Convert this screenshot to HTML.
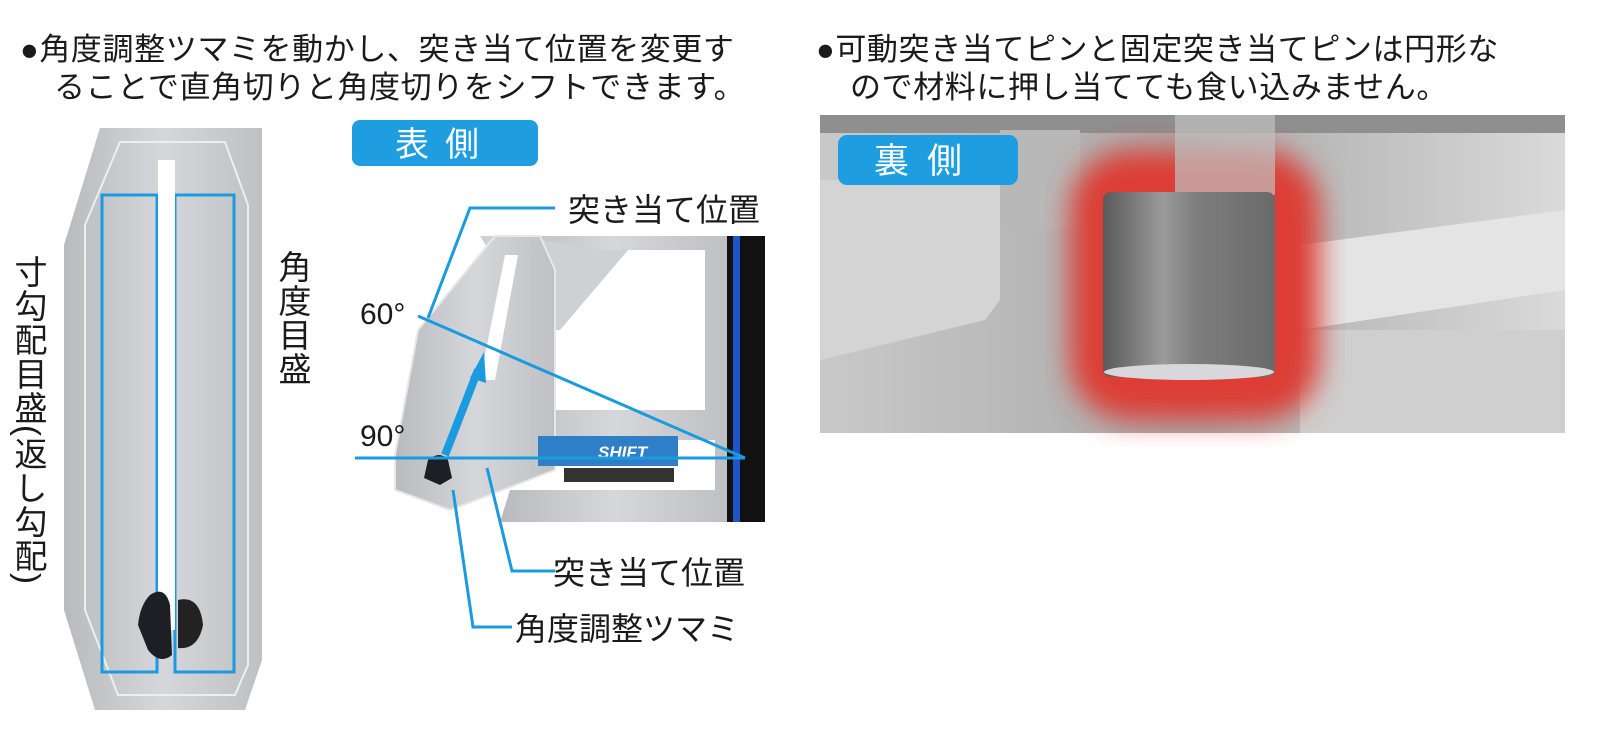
<!DOCTYPE html>
<html><head><meta charset="utf-8"><style>
body{margin:0;width:1600px;height:748px;background:#fff;overflow:hidden;font-family:"Liberation Sans","Noto Sans CJK JP",sans-serif;}
.t{position:absolute;font-size:31px;color:#1a1a1a;white-space:nowrap;letter-spacing:0.6px}
.v{position:absolute;font-size:33px;color:#1a1a1a;writing-mode:vertical-rl;line-height:1;letter-spacing:1px}
</style></head><body>
<div class="t" style="left:20px;top:24px">●角度調整ツマミを動かし、突き当て位置を変更す</div>
<div class="t" style="left:54px;top:62px">ることで直角切りと角度切りをシフトできます。</div>
<div class="t" style="left:816px;top:24px">●可動突き当てピンと固定突き当てピンは円形な</div>
<div class="t" style="left:850px;top:62px">ので材料に押し当てても食い込みません。</div>
<div class="v" style="left:12px;top:255px">寸勾配目盛(返し勾配)</div>
<div class="v" style="left:276px;top:250px">角度目盛</div>
<svg width="1600" height="748" style="position:absolute;left:0;top:0">
<defs>
<linearGradient id="m" x1="0" x2="1"><stop offset="0" stop-color="#b9babd"/><stop offset=".5" stop-color="#d6d7da"/><stop offset="1" stop-color="#bfc0c3"/></linearGradient>
<linearGradient id="ph" x1="0" x2="1"><stop offset="0" stop-color="#c9c9c9"/><stop offset=".5" stop-color="#a9a9a9"/><stop offset="1" stop-color="#dadada"/></linearGradient>
<linearGradient id="cy" x1="0" x2="1"><stop offset="0" stop-color="#5a5a5a"/><stop offset=".35" stop-color="#9a9a9a"/><stop offset=".55" stop-color="#7d7d7d"/><stop offset="1" stop-color="#6a6a6a"/></linearGradient>
<filter id="b"><feGaussianBlur stdDeviation="14"/></filter>
</defs>
<polygon points="100,128 262,128 262,660 245,710 95,710 64,610 64,245" fill="url(#m)"/>
<polygon points="120,142 225,142 248,205 248,665 235,695 118,695 85,610 85,225" fill="none" stroke="#eee" stroke-width="2"/>
<rect x="102" y="195" width="55" height="477" fill="none" stroke="#1a9be0" stroke-width="3"/>
<rect x="175" y="195" width="59" height="477" fill="none" stroke="#1a9be0" stroke-width="3"/>
<rect x="158" y="160" width="17" height="470" fill="#fff"/>
<path d="M150,595 Q165,585 170,605 L172,655 Q160,665 148,650 L138,625 Q140,605 150,595Z" fill="#1d1f24"/>
<path d="M178,600 Q200,595 203,625 Q198,650 178,648Z" fill="#222"/>
<rect x="352" y="120" width="186" height="46" rx="8" fill="#1e9ee0"/>
<text x="445" y="156" text-anchor="middle" fill="#fff" font-size="34" letter-spacing="16" font-family="Noto Sans CJK JP">表側</text>
<polygon points="480,236 640,236 560,330 545,330 520,300" fill="#cfd0d3"/>
<polygon points="520,236 727,236 727,522 500,522 510,490 715,490 715,440 520,440 520,410 705,410 705,250 600,250" fill="url(#m)"/>
<polygon points="495,236 540,236 555,270 555,470 450,510 395,490 395,455 418,330" fill="url(#m)" stroke="#e8e8e8" stroke-width="2"/>
<polygon points="505,255 518,255 495,380 480,380" fill="#fff"/>
<rect x="538" y="436" width="140" height="30" fill="#2e7fc8"/>
<text x="598" y="458" fill="#fff" font-size="17" font-weight="bold" font-style="italic">SHIFT</text>
<rect x="564" y="468" width="110" height="14" fill="#333"/>
<rect x="727" y="236" width="38" height="286" fill="#111"/>
<rect x="733" y="236" width="7" height="286" fill="#1f55c8"/>
<path d="M428,460 Q440,450 448,460 L452,478 L440,485 L424,478Z" fill="#1d1f24"/>
<g stroke="#1a9be0" stroke-width="3" fill="none">
<line x1="355" y1="458" x2="745" y2="458"/>
<line x1="418" y1="316" x2="745" y2="458"/>
<polyline points="555,208 470,208 428,318"/>
<polyline points="555,571 512,571 487,468"/>
<polyline points="512,627 473,627 453,490"/>
</g>
<line x1="445" y1="455" x2="478" y2="370" stroke="#1a9be0" stroke-width="8"/>
<polygon points="484,352 470,378 486,383" fill="#1a9be0"/>
<text x="360" y="324" font-size="30" fill="#1a1a1a">60°</text>
<text x="360" y="446" font-size="30" fill="#1a1a1a">90°</text>
<text x="568" y="221" font-size="32" fill="#1a1a1a" font-family="Noto Sans CJK JP">突き当て位置</text>
<text x="553" y="584" font-size="32" fill="#1a1a1a" font-family="Noto Sans CJK JP">突き当て位置</text>
<text x="515" y="640" font-size="32" fill="#1a1a1a" font-family="Noto Sans CJK JP">角度調整ツマミ</text>
<rect x="820" y="115" width="745" height="318" fill="url(#ph)"/>
<rect x="820" y="115" width="745" height="18" fill="#8f8f8f"/>
<polygon points="820,180 1000,180 1000,300 985,320 820,360" fill="#d4d4d4"/>
<rect x="1000" y="130" width="80" height="100" fill="#b8b8b8"/>
<polygon points="1300,245 1565,210 1565,290 1300,330" fill="#e4e4e4"/>
<rect x="1300" y="330" width="265" height="103" fill="#cfcfcf"/>
<rect x="1070" y="150" width="250" height="270" rx="60" fill="#dd3e34" filter="url(#b)"/>
<rect x="1175" y="115" width="100" height="80" fill="#c0c0c0" opacity=".7"/>
<rect x="1103" y="192" width="172" height="185" rx="8" fill="url(#cy)"/>
<ellipse cx="1189" cy="372" rx="85" ry="8" fill="#d8d8dc"/>
<rect x="838" y="135" width="180" height="50" rx="9" fill="#1e9ee0"/>
<text x="927" y="173" text-anchor="middle" fill="#fff" font-size="35" letter-spacing="18" font-family="Noto Sans CJK JP">裏側</text>
</svg>
</body></html>
